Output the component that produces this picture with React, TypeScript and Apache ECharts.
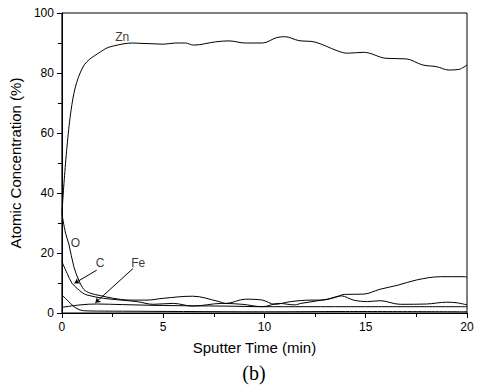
import React, { useEffect, useRef } from "react";
import * as echarts from "echarts";

const znX = [0, 0.45, 1.04, 2.05, 2.54, 3.5, 5, 5.6, 6.1, 6.5, 7.6, 8.25, 9.05, 9.9, 10.6, 11.0, 11.7, 12.5, 13.6, 14.1, 14.9, 16.0, 17.0, 17.8, 18.5, 19.1, 19.6, 20];
const znY = [33, 67.5, 82, 87.7, 89, 90, 89.6, 90, 90, 89.3, 90.4, 90.7, 90, 90, 91.8, 92.1, 90.8, 90.3, 87.4, 86.6, 86.9, 84.9, 84.7, 82.7, 82.1, 81, 81.2, 82.7];

const oX = [0, 0.18, 0.34, 0.59, 0.83, 1.08, 1.4, 1.9, 2.54, 3.36, 4.2, 5.0, 6.45, 7.76, 8.1, 9.06, 9.9, 10.5, 11.3, 12.3, 12.8, 13.5, 13.95, 14.9, 15.7, 16.6, 17.5, 18.7, 19.8, 20];
const oY = [33, 26.6, 23, 15.4, 11, 7.9, 6.6, 5.8, 4.9, 4.3, 4.3, 4.9, 5.6, 3.8, 3.2, 4.6, 4.3, 2.9, 3.8, 4.3, 4.3, 5.2, 6.2, 6.3, 7.9, 9.3, 11, 12.1, 12.1, 12.0];

const cX = [0, 0.26, 0.5, 0.75, 1.0, 1.24, 2.05, 3.7, 4.5, 5.5, 6.45, 7.9, 8.9, 9.9, 10.7, 11.5, 11.8, 13.1, 13.8, 14.4, 15.1, 15.7, 16.7, 18, 19, 19.5, 20];
const cY = [17.1, 13.2, 9.9, 8.2, 6.8, 6.0, 4.9, 3.8, 2.9, 3.2, 2.3, 3.2, 2.9, 2.1, 3.2, 2.7, 3.2, 4.6, 5.7, 4.3, 3.8, 4.1, 2.9, 3.0, 3.6, 3.4, 2.7];

const feX = [0, 0.9, 1.7, 3, 5, 8, 10, 12, 15, 18, 20];
const feY = [1.9, 2.7, 3.0, 2.8, 2.5, 2.3, 2.1, 2.1, 2.1, 2.1, 2.1];

const otherX = [0, 0.26, 0.6, 0.9, 1.24, 3, 6, 10, 14, 20];
const otherY = [6, 4.3, 2.1, 1, 0.7, 0.6, 0.5, 0.4, 0.5, 0.4];

const labelNames = ["Zn", "O", "C", "Fe"];
const labelX = [2.98, 0.67, 1.89, 3.77];
const labelY = [92, 23.2, 16.6, 16.6];

const pointerFrom = [[1.72, 14.3], [3.52, 14.9]];
const pointerTo = [[0.62, 9.9], [1.65, 3.4]];

const xTicks = [0, 20, 5];
const yTicks = [0, 100, 20];

const pair = (xs: number[], ys: number[]) => xs.map((x, i) => [x, ys[i]]);

const font = "'Liberation Sans', Arial, sans-serif";

export default function App() {
  const ref = useRef<HTMLDivElement>(null);
  useEffect(() => {
    document.body.style.margin = "0";
    const chart = echarts.init(ref.current!, null, { renderer: "svg" });
    const lineSeries = (name: string, xs: number[], ys: number[]) => ({
      name,
      type: "line",
      data: pair(xs, ys),
      smooth: 0.35,
      showSymbol: false,
      lineStyle: { color: "#000", width: 1 },
      z: 3,
    });
    chart.setOption({
      animation: false,
      backgroundColor: "#fff",
      grid: { left: 58, right: 14, top: 13, bottom: 76, show: true, borderColor: "#000", borderWidth: 1 },
      xAxis: {
        type: "value",
        min: xTicks[0],
        max: xTicks[1],
        interval: xTicks[2],
        name: "Sputter Time (min)",
        nameLocation: "middle",
        nameGap: 27,
        nameTextStyle: { fontFamily: font, fontSize: 15, color: "#000", padding: [0, 20, 0, 0] },
        axisLine: { lineStyle: { color: "#000", width: 1 } },
        axisTick: { show: true, inside: false, length: 5, lineStyle: { color: "#000" } },
        minorTick: { show: true, splitNumber: 2, length: 4, lineStyle: { color: "#000" } },
        axisLabel: { fontFamily: font, fontSize: 12, color: "#000", margin: 8 },
        splitLine: { show: false },
      },
      yAxis: {
        type: "value",
        min: yTicks[0],
        max: yTicks[1],
        interval: yTicks[2],
        name: "Atomic Concentration (%)",
        nameLocation: "middle",
        nameGap: 32,
        nameTextStyle: { fontFamily: font, fontSize: 15, color: "#000" },
        axisLine: { show: true, lineStyle: { color: "#000", width: 1 } },
        axisTick: { show: true, inside: false, length: 5, lineStyle: { color: "#000" } },
        minorTick: { show: true, splitNumber: 2, length: 4, lineStyle: { color: "#000" } },
        axisLabel: { fontFamily: font, fontSize: 12, color: "#000", margin: 8 },
        splitLine: { show: false },
      },
      series: [
        lineSeries("Zn", znX, znY),
        lineSeries("O", oX, oY),
        lineSeries("C", cX, cY),
        lineSeries("Fe", feX, feY),
        lineSeries("other", otherX, otherY),
        {
          type: "scatter",
          symbolSize: 0,
          itemStyle: { color: "#000" },
          data: labelNames.map((n, i) => ({ name: n, value: [labelX[i], labelY[i]] })),
          label: {
            show: true,
            position: [0, 0],
            align: "center",
            verticalAlign: "middle",
            formatter: "{b}",
            fontFamily: font,
            fontSize: 12,
            color: "#000",
            textBorderWidth: 0,
          },
          z: 5,
        },
        {
          type: "lines",
          coordinateSystem: "cartesian2d",
          symbol: ["none", "arrow"],
          symbolSize: 5,
          lineStyle: { color: "#000", width: 1, opacity: 1 },
          data: pointerFrom.map((f, i) => ({ coords: [f, pointerTo[i]] })),
          z: 5,
        },
      ],
      graphic: [
        {
          type: "text",
          x: 254,
          y: 363,
          style: {
            text: "(b)",
            fontFamily: "'Liberation Serif', 'Times New Roman', serif",
            fontSize: 20,
            fill: "#000",
            textAlign: "center",
          },
        },
      ],
    });
    return () => chart.dispose();
  }, []);
  return <div ref={ref} style={{ width: 481, height: 389 }} />;
}
